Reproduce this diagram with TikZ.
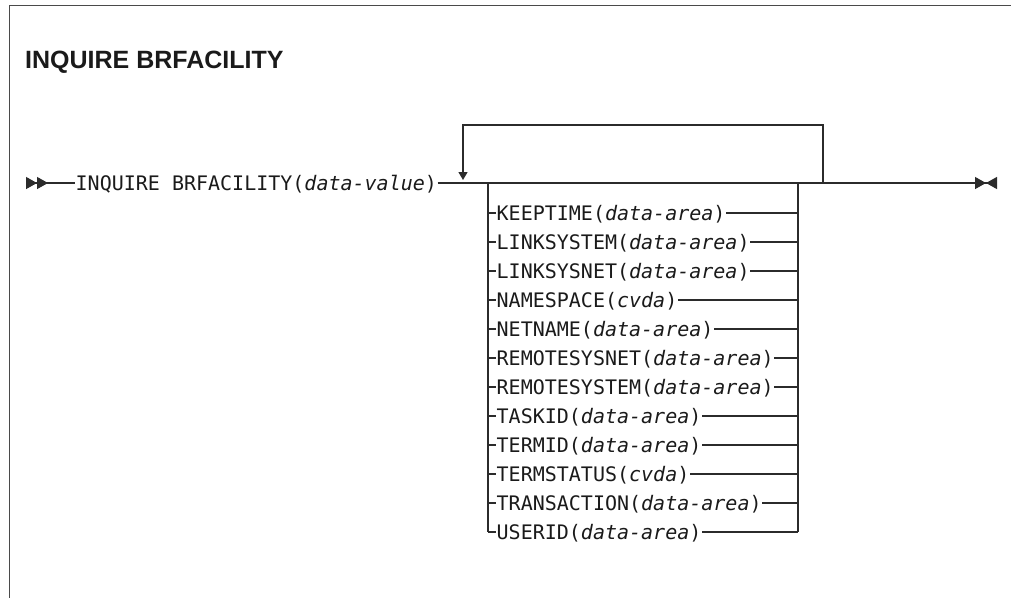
\documentclass[tikz,border=0pt]{standalone}
\usepackage{fontspec}
\setmonofont{DejaVu Sans Mono}
\newfontfamily\headfont{Liberation Sans}
\usepackage{xcolor}
\usepackage{tikz}
\usetikzlibrary{arrows.meta}
\definecolor{rrLine}{HTML}{2B2B2B}
\definecolor{rrText}{HTML}{1A1A1A}
\definecolor{rrFrame}{HTML}{4A4A4A}
\newcommand{\rowTop}{213}
\newcommand{\rowGap}{29}
\newcommand{\optArg}[2]{#1(\textit{#2})}

\begin{document}
\begin{tikzpicture}[
  x=1pt, y=-1pt,
  rr/.style={draw=rrLine, line width=1.3pt},
  frameline/.style={draw=rrFrame, line width=1.5pt},
  kw/.style={
    font=\ttfamily\fontsize{20}{21}\selectfont, text=rrText,
    inner xsep=0.5pt, inner ysep=0pt, text height=14.6pt, text depth=0pt
  },
  head/.style={font=\headfont\bfseries\fontsize{25}{30}\selectfont, text=rrText, inner sep=0pt},
  begtips/.style={{Triangle[reversed,length=11pt,width=12pt]Triangle[reversed,length=11pt,width=12pt]}-},
  endtips/.style={-{Triangle[length=11pt,width=12pt]Triangle[reversed,length=11pt,width=12pt]}},
  looptip/.style={-{Triangle[length=8pt,width=9pt]}}
]
\useasboundingbox (0,0) rectangle (1011,598);

% ---- frame and title ------------------------------------------------------
\draw[frameline] (1011,5.5) -- (9.5,5.5) -- (9.5,598);
\node[head, anchor=base west] (title) at (25,68) {INQUIRE BRFACILITY};

% ---- main line --------------------------------------------------------------
\coordinate (start) at (26,183);
\coordinate (stop)  at (997,183);
\coordinate (boxL)  at (488,183);
\coordinate (boxR)  at (798,183);
\coordinate (loopR) at (823,183);
\coordinate (loopT) at (823,125);
\coordinate (loopIn) at (463,183);

\node[kw, anchor=west] (cmd) at (75,183) {\optArg{INQUIRE BRFACILITY}{data-value}};
\draw[rr, begtips] (start) -- (cmd.west);
\draw[rr, endtips] (cmd.east) -- (stop);

% ---- repeat loop ------------------------------------------------------------
\draw[rr, looptip] (loopR) -- (loopT) -- (loopT -| loopIn) -- ([yshift=3pt]loopIn);

% ---- options ----------------------------------------------------------------
\foreach \kwd/\val [count=\i] in {
    KEEPTIME/data-area, LINKSYSTEM/data-area, LINKSYSNET/data-area,
    NAMESPACE/cvda, NETNAME/data-area, REMOTESYSNET/data-area,
    REMOTESYSTEM/data-area, TASKID/data-area, TERMID/data-area,
    TERMSTATUS/cvda, TRANSACTION/data-area, USERID/data-area} {
  \node[kw, anchor=west] (opt\i) at (496,{\rowTop+\rowGap*(\i-1)}) {\optArg{\kwd}{\val}};
  \draw[rr] (opt\i.west -| boxL) -- (opt\i.west);
  \draw[rr] (opt\i.east) -- (opt\i.east -| boxR);
}
\draw[rr] (boxL) -- (boxL |- opt12.west);
\draw[rr] (boxR) -- (boxR |- opt12.east);

\end{tikzpicture}
\end{document}
